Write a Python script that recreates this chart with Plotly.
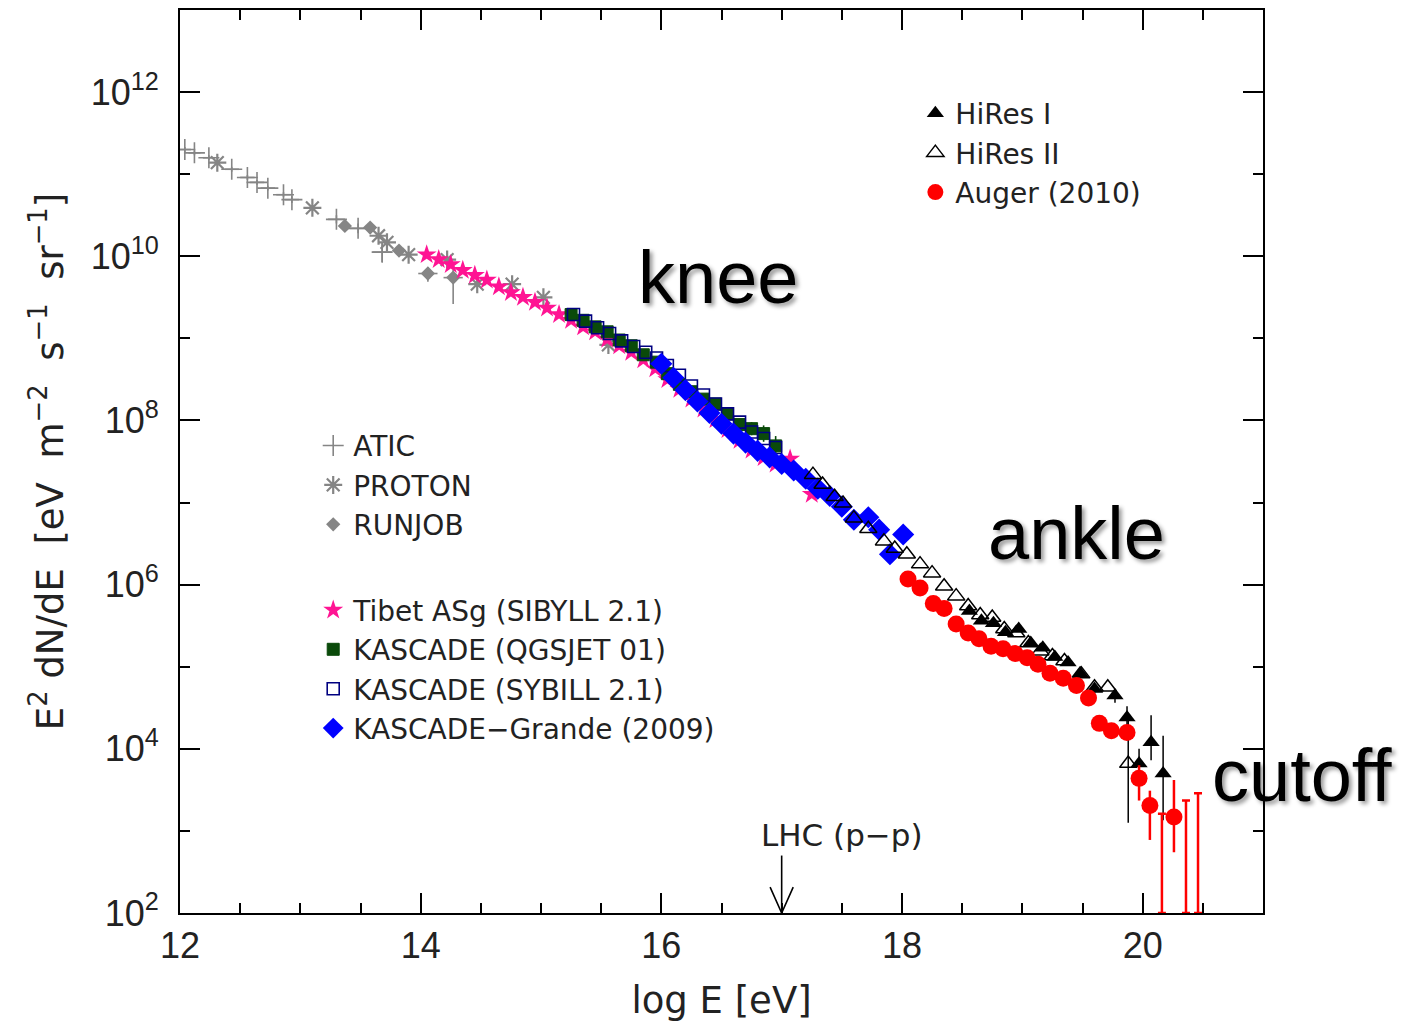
import numpy as np
import plotly.graph_objects as go

# ---------------------------------------------------------------------------
# Cosmic-ray all-particle spectrum, E^2 dN/dE vs log10(E/eV)
# y values are stored as log10(flux); error bars as dex offsets
# ---------------------------------------------------------------------------

# ATIC (direct measurement)
atic_x = [12.04, 12.12, 12.24, 12.43, 12.56, 12.64, 12.73, 12.86, 12.93, 13.30, 13.48, 13.68]
atic_ly = [11.30, 11.26, 11.20, 11.06, 10.96, 10.90, 10.83, 10.75, 10.69, 10.45, 10.34, 10.05]
atic_ex = [0.05, 0.05, 0.05, 0.06, 0.06, 0.06, 0.06, 0.06, 0.06, 0.07, 0.07, 0.08]
atic_dy = [0.03, 0.03, 0.03, 0.03, 0.03, 0.03, 0.03, 0.03, 0.04, 0.05, 0.06, 0.12]

# PROTON satellite
proton_x = [12.31, 13.10, 13.65, 13.72, 13.90, 14.22, 14.47, 14.76, 15.02, 15.56]
proton_ly = [11.14, 10.59, 10.25, 10.17, 10.02, 9.96, 9.66, 9.66, 9.50, 8.92]

# RUNJOB balloon
runjob_x = [13.37, 13.58, 13.82, 14.06, 14.27]
runjob_ly = [10.37, 10.35, 10.07, 9.79, 9.74]
runjob_ex = [0.0, 0.0, 0.0, 0.08, 0.08]
runjob_up = [0.0, 0.0, 0.0, 0.08, 0.10]
runjob_dn = [0.0, 0.0, 0.0, 0.10, 0.32]

# Tibet ASgamma (SIBYLL 2.1)
tibet_x = [14.05, 14.15, 14.25, 14.35, 14.45, 14.55, 14.65, 14.75, 14.85, 14.95,
           15.05, 15.15, 15.25, 15.35, 15.45, 15.55, 15.65, 15.75, 15.85, 15.95,
           16.05, 16.15, 16.25, 16.35, 16.45, 16.55, 16.65, 16.75, 16.85, 16.95,
           17.07, 17.25]
tibet_ly = [10.02, 9.96, 9.90, 9.83, 9.77, 9.71, 9.63, 9.56, 9.50, 9.44,
            9.37, 9.29, 9.22, 9.14, 9.08, 8.99, 8.91, 8.83, 8.74, 8.63,
            8.50, 8.38, 8.26, 8.14, 8.01, 7.89, 7.76, 7.64, 7.55, 7.47,
            7.53, 7.10]

# KASCADE (QGSJET 01)
kq_x = [15.25, 15.35, 15.45, 15.55, 15.65, 15.75, 15.85, 15.96, 16.05, 16.15,
        16.25, 16.35, 16.45, 16.55, 16.65, 16.75, 16.85, 16.95]
kq_ly = [9.29, 9.22, 9.14, 9.08, 8.98, 8.91, 8.80, 8.71, 8.57, 8.44,
         8.35, 8.26, 8.20, 8.08, 7.95, 7.90, 7.84, 7.69]
kq_dy = [0.02, 0.02, 0.02, 0.02, 0.02, 0.02, 0.02, 0.02, 0.02, 0.03,
         0.03, 0.03, 0.04, 0.05, 0.06, 0.08, 0.10, 0.12]

# KASCADE (SIBYLL 2.1)
ks_x = [15.27, 15.37, 15.47, 15.57, 15.67, 15.77, 15.87, 15.96, 16.05, 16.15,
        16.25, 16.35, 16.45, 16.55, 16.65, 16.75, 16.85, 16.95]
ks_ly = [9.29, 9.21, 9.13, 9.06, 8.97, 8.90, 8.83, 8.76, 8.67, 8.55,
         8.42, 8.31, 8.20, 8.08, 7.98, 7.86, 7.78, 7.67]

# KASCADE-Grande (2009)
kg_x = [16.00, 16.10, 16.20, 16.30, 16.40, 16.50, 16.60, 16.70, 16.80, 16.90,
        17.00, 17.10, 17.20, 17.30, 17.40, 17.50, 17.60, 17.72, 17.81, 17.90, 18.01]
kg_ly = [8.69, 8.52, 8.37, 8.23, 8.09, 7.96, 7.84, 7.73, 7.63, 7.55,
         7.47, 7.39, 7.29, 7.17, 7.08, 6.95, 6.79, 6.82, 6.67, 6.37, 6.61]

# HiRes I (monocular)
h1_x = [18.56, 18.66, 18.76, 18.86, 18.97, 19.07, 19.17, 19.27, 19.38, 19.48,
        19.60, 19.77, 19.87, 19.97, 20.07, 20.17]
h1_ly = [5.68, 5.56, 5.53, 5.42, 5.46, 5.29, 5.23, 5.12, 5.05, 4.92,
         4.73, 4.65, 4.38, 3.82, 4.08, 3.70]
h1_up = [0.02, 0.02, 0.02, 0.02, 0.02, 0.03, 0.03, 0.03, 0.04, 0.05,
         0.06, 0.08, 0.14, 0.18, 0.33, 0.46]
h1_dn = [0.02, 0.02, 0.02, 0.02, 0.02, 0.03, 0.03, 0.03, 0.04, 0.05,
         0.06, 0.09, 0.16, 0.20, 0.22, 0.57]

# HiRes II (monocular)
h2_x = [17.26, 17.34, 17.44, 17.51, 17.60, 17.72, 17.85, 17.94, 18.04, 18.15,
        18.25, 18.35, 18.45, 18.55, 18.65, 18.75, 18.85, 18.95, 19.05, 19.15,
        19.25, 19.35, 19.49, 19.60, 19.71, 19.88]
h2_ly = [7.34, 7.22, 7.07, 6.99, 6.81, 6.68, 6.53, 6.44, 6.37, 6.25,
         6.14, 5.98, 5.86, 5.74, 5.63, 5.60, 5.46, 5.41, 5.29, 5.19,
         5.13, 5.07, 4.91, 4.75, 4.75, 3.82]
h2_up = [0.0] * 25 + [0.58]
h2_dn = [0.0] * 25 + [0.72]

# Pierre Auger Observatory (2010)
auger_x = [18.05, 18.15, 18.26, 18.35, 18.45, 18.55, 18.64, 18.74, 18.84, 18.94,
           19.04, 19.13, 19.23, 19.34, 19.45, 19.55, 19.64, 19.74, 19.87, 19.97,
           20.06, 20.26]
auger_ly = [6.07, 5.96, 5.77, 5.71, 5.52, 5.41, 5.34, 5.25, 5.22, 5.16,
            5.11, 5.03, 4.92, 4.86, 4.77, 4.62, 4.31, 4.22, 4.20, 3.64,
            3.31, 3.17]
auger_up = [0.0] * 19 + [0.16, 0.18, 0.45]
auger_dn = [0.0] * 19 + [0.27, 0.42, 0.43]

# Auger upper limits (empty bins): bar tops in log10
auger_lim_x = [20.16, 20.36, 20.46]
auger_lim_ly = [3.21, 3.37, 3.46]

# LHC p-p equivalent energy marker
lhc_energy = 17.0

# Axis ticks
y_major = [2, 4, 6, 8, 10, 12]
y_minor = [3, 5, 7, 9, 11, 13]
x_major = [12, 14, 16, 18, 20]

FONT = "Liberation Sans, Arial, sans-serif"
TEXT_FONT = "DejaVu Sans, Verdana, sans-serif"
NB = "\u00a0"


def lin(ly):
    return 10.0 ** np.asarray(ly, dtype=float)


def err_plus(ly, up):
    ly = np.asarray(ly, float)
    return 10.0 ** (ly + np.asarray(up, float)) - 10.0 ** ly


def err_minus(ly, dn):
    ly = np.asarray(ly, float)
    return 10.0 ** ly - 10.0 ** (ly - np.asarray(dn, float))


GRAY = "#858585"
fig = go.Figure()

# --- direct measurements (legend2) ---
fig.add_trace(go.Scatter(
    x=atic_x, y=lin(atic_ly), mode="markers", name="ATIC", legend="legend2",
    marker=dict(symbol="cross-thin-open", size=15, color=GRAY, line=dict(color=GRAY, width=1.6)),
    error_x=dict(type="data", array=atic_ex, color=GRAY, thickness=1.6, width=0),
    error_y=dict(type="data", symmetric=False, array=err_plus(atic_ly, atic_dy),
                 arrayminus=err_minus(atic_ly, atic_dy), color=GRAY, thickness=1.6, width=0),
))
fig.add_trace(go.Scatter(
    x=proton_x, y=lin(proton_ly), mode="markers", name="PROTON", legend="legend2",
    marker=dict(symbol="asterisk-open", size=15, color=GRAY, line=dict(color=GRAY, width=2.2)),
))
fig.add_trace(go.Scatter(
    x=runjob_x, y=lin(runjob_ly), mode="markers", name="RUNJOB", legend="legend2",
    marker=dict(symbol="diamond", size=11, color=GRAY, line=dict(width=0)),
    error_x=dict(type="data", array=runjob_ex, color=GRAY, thickness=1.6, width=0),
    error_y=dict(type="data", symmetric=False, array=err_plus(runjob_ly, runjob_up),
                 arrayminus=err_minus(runjob_ly, runjob_dn), color=GRAY, thickness=1.6, width=0),
))

# --- air-shower arrays (legend3) ---
fig.add_trace(go.Scatter(
    x=tibet_x, y=lin(tibet_ly), mode="markers", name="Tibet ASg (SIBYLL 2.1)", legend="legend3",
    marker=dict(symbol="star", size=15, color="#ff1493", line=dict(width=0)),
))
fig.add_trace(go.Scatter(
    x=kq_x, y=lin(kq_ly), mode="markers", name="KASCADE (QGSJET 01)", legend="legend3",
    marker=dict(symbol="square", size=12, color="#0a4a0a", line=dict(color="#0a4a0a", width=1)),
    error_y=dict(type="data", array=err_plus(kq_ly, kq_dy), arrayminus=err_minus(kq_ly, kq_dy),
                 symmetric=False, color="#0a4a0a", thickness=1.6, width=0),
))
fig.add_trace(go.Scatter(
    x=ks_x, y=lin(ks_ly), mode="markers", name="KASCADE (SYBILL 2.1)", legend="legend3",
    marker=dict(symbol="square-open", size=12, color="#000080", line=dict(color="#000080", width=1.6)),
))
fig.add_trace(go.Scatter(
    x=kg_x, y=lin(kg_ly), mode="markers", name="KASCADE\u2212Grande (2009)", legend="legend3",
    marker=dict(symbol="diamond", size=17, color="#0000ff", line=dict(width=0)),
))

# --- ultra-high-energy (legend) ---
fig.add_trace(go.Scatter(
    x=h2_x, y=lin(h2_ly), mode="markers", name="HiRes II", legend="legend", legendrank=2,
    marker=dict(symbol="triangle-up-open", size=15, color="black", line=dict(color="black", width=1.5)),
    error_y=dict(type="data", symmetric=False, array=err_plus(h2_ly, h2_up),
                 arrayminus=err_minus(h2_ly, h2_dn), color="black", thickness=1.5, width=0),
))
fig.add_trace(go.Scatter(
    x=h1_x, y=lin(h1_ly), mode="markers", name="HiRes I", legend="legend", legendrank=1,
    marker=dict(symbol="triangle-up", size=15, color="black", line=dict(width=0)),
    error_y=dict(type="data", symmetric=False, array=err_plus(h1_ly, h1_up),
                 arrayminus=err_minus(h1_ly, h1_dn), color="black", thickness=1.5, width=0),
))
fig.add_trace(go.Scatter(
    x=auger_x, y=lin(auger_ly), mode="markers", name="Auger (2010)", legend="legend", legendrank=3,
    marker=dict(symbol="circle", size=17, color="#ff0000", line=dict(width=0)),
    error_y=dict(type="data", symmetric=False, array=err_plus(auger_ly, auger_up),
                 arrayminus=err_minus(auger_ly, auger_dn), color="#ff0000", thickness=2.5, width=0),
))
# upper limits reaching down to the axis
lim_top = lin(auger_lim_ly)
fig.add_trace(go.Scatter(
    x=auger_lim_x, y=lim_top, mode="markers", showlegend=False, hoverinfo="skip",
    marker=dict(size=0.1, color="rgba(0,0,0,0)"),
    error_y=dict(type="data", symmetric=False, array=[0] * len(lim_top),
                 arrayminus=lim_top - 10.0 ** y_major[0], color="#ff0000", thickness=2.5, width=4),
))

# --- LHC arrow: shaft plus open "V" head ending on the axis ---
floor = y_major[0]
shaft_len, head_dx, head_dy = 0.70, 0.096, 0.315
fig.add_trace(go.Scatter(
    x=[lhc_energy, lhc_energy, None, lhc_energy - head_dx, lhc_energy, lhc_energy + head_dx],
    y=[10 ** (floor + shaft_len), 10 ** floor, None,
       10 ** (floor + head_dy), 10 ** floor, 10 ** (floor + head_dy)],
    mode="lines", line=dict(color="black", width=1.6), showlegend=False, hoverinfo="skip",
))
fig.add_annotation(x=lhc_energy + 0.5, y=2.95, text="LHC (p\u2212p)", showarrow=False,
                   font=dict(family=TEXT_FONT, size=31, color="#222"), xref="x", yref="y")

# --- spectral feature labels ---
big = dict(family=FONT, size=74, color="black", shadow="3px 3px 4px rgba(0,0,0,0.4)")
fig.add_annotation(x=16.47, y=9.74, text="knee", showarrow=False, font=big, xref="x", yref="y")
fig.add_annotation(x=19.45, y=6.62, text="ankle", showarrow=False, font=big, xref="x", yref="y")
fig.add_annotation(x=1.036, y=0.152, text="cutoff", showarrow=False, font=big,
                   xref="paper", yref="paper", xanchor="center", yanchor="middle")

axis_common = dict(showline=True, linecolor="black", linewidth=2, mirror="allticks",
                   ticks="inside", ticklen=20, tickwidth=1.6, tickcolor="black",
                   showgrid=False, zeroline=False,
                   tickfont=dict(family=FONT, size=36, color="#222"))

fig.update_xaxes(range=[12, 21], tickmode="array", tickvals=x_major,
                 ticktext=[str(v) for v in x_major],
                 minor=dict(dtick=0.5, ticks="inside", ticklen=10, tickwidth=1.6, tickcolor="black"),
                 title=dict(text=f"log{NB}E{NB}[eV]", font=dict(family=TEXT_FONT, size=37, color="#222"),
                            standoff=22),
                 **axis_common)
ytitle = (f"E<sup>2</sup>{NB}dN/dE{NB}{NB}[eV{NB}{NB}m<sup>\u22122</sup>{NB}{NB}s<sup>\u22121</sup>"
          f"{NB}{NB}sr<sup>\u22121</sup>]")
fig.update_yaxes(type="log", range=[2, 13], tickmode="array",
                 tickvals=[10.0 ** v for v in y_major],
                 ticktext=[f"10<sup>{v}</sup>" for v in y_major],
                 minor=dict(tickmode="array", tickvals=[10.0 ** v for v in y_minor],
                            ticks="inside", ticklen=10, tickwidth=1.6, tickcolor="black"),
                 title=dict(text=ytitle, font=dict(family=TEXT_FONT, size=37, color="#222"), standoff=16),
                 ticklabelstandoff=12,
                 **axis_common)

legend_common = dict(bgcolor="rgba(0,0,0,0)", borderwidth=0,
                     font=dict(family=TEXT_FONT, size=28, color="#222"),
                     xanchor="left", yanchor="top", itemclick=False)
fig.update_layout(
    width=1401, height=1031,
    margin=dict(l=180, r=138, t=8, b=118),
    plot_bgcolor="white", paper_bgcolor="white",
    showlegend=True,
    legend=dict(x=0.679, y=0.913, **legend_common),
    legend2=dict(x=0.123, y=0.545, **legend_common),
    legend3=dict(x=0.123, y=0.363, **legend_common),
)

fig.write_html("out.html")
